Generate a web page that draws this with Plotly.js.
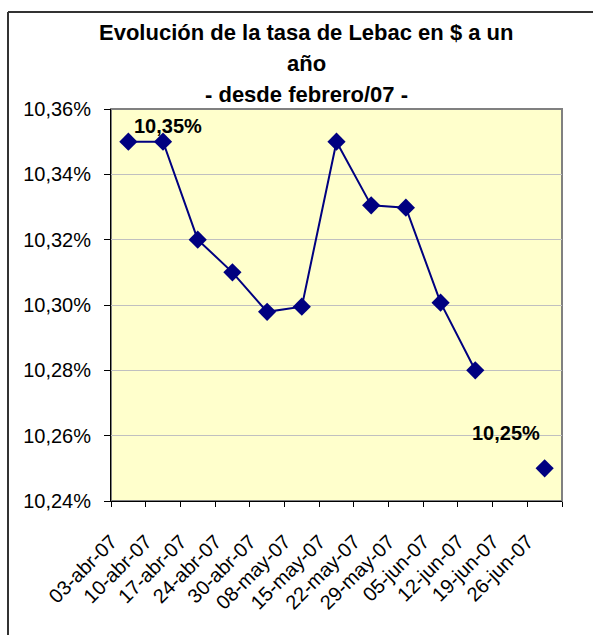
<!DOCTYPE html>
<html>
<head>
<meta charset="utf-8">
<script src="https://cdn.plot.ly/plotly-3.0.1.min.js"></script>
<style>html,body{margin:0;padding:0;background:#fff;}#chart{width:593px;height:635px;}</style>
</head>
<body>
<div id="chart"></div>
<script>
const categories = ["03-abr-07","10-abr-07","17-abr-07","24-abr-07","30-abr-07","08-may-07","15-may-07","22-may-07","29-may-07","05-jun-07","12-jun-07","19-jun-07","26-jun-07"];
const tasa = [10.35, 10.35, 10.32, 10.31, 10.2979, 10.2995, 10.35, 10.3305, 10.3298, 10.3007, 10.28, null, 10.25];
const yTicks = [10.24, 10.26, 10.28, 10.30, 10.32, 10.34, 10.36];
const titleLines = ["Evolución de la tasa de Lebac en $ a un", "año", "- desde febrero/07 -"];
const labelledPoints = [1, 12];

function fmt(v){ return v.toFixed(2).replace('.', ',') + '%'; }

const W = 593, H = 635;
const L = 111, R = 562, T = 109, B = 501;
const pw = R - L, ph = B - T;
const px = x => (x - L) / pw;
const py = y => (B - y) / ph;

const trace = {
  type: 'scatter', mode: 'lines+markers',
  x: categories, y: tasa,
  connectgaps: false,
  line: {color: '#000080', width: 2},
  marker: {symbol: 'diamond', size: 14, color: '#000080'},
  hoverinfo: 'x+y'
};

const FONT = 'Liberation Sans, Arial, sans-serif';
const labelShifts = {1: [5, 16], 12: [-39, 35]};
const annotations = labelledPoints.map(i => ({
  x: categories[i], y: tasa[i], xref: 'x', yref: 'y',
  text: '<b>' + fmt(tasa[i]) + '</b>', showarrow: false,
  xshift: labelShifts[i][0], yshift: labelShifts[i][1],
  font: {family: FONT, size: 20, color: '#000'}
}));
const titleY = [32, 63, 95];
titleLines.forEach((t, i) => annotations.push({
  x: px(306), y: py(titleY[i]), xref: 'paper', yref: 'paper',
  xanchor: 'center', yanchor: 'middle', showarrow: false,
  text: '<b>' + t + '</b>',
  font: {family: FONT, size: 22, color: '#000'}
}));

const layout = {
  width: W, height: H,
  margin: {l: L, r: W - R, t: T, b: H - B, pad: 0},
  paper_bgcolor: '#ffffff', plot_bgcolor: '#FFFFCC',
  separators: ',.',
  font: {family: FONT, size: 20, color: '#000'},
  showlegend: false,
  xaxis: {
    type: 'category', range: [-0.5, categories.length - 0.5],
    tickangle: -45, ticks: 'outside', ticklen: 5, tickwidth: 1, tickcolor: '#000',
    tickson: 'boundaries', ticklabelshift: -17, ticklabelstandoff: 20,
    showline: true, linecolor: '#000', linewidth: 1,
    showgrid: false, zeroline: false, fixedrange: true,
    tickfont: {size: 20}
  },
  yaxis: {
    range: [10.24, 10.36], tickvals: yTicks,
    ticktext: yTicks.map(fmt),
    ticks: 'outside', ticklen: 6, tickwidth: 1, tickcolor: '#000',
    ticklabelstandoff: 9,
    showline: true, linecolor: '#000', linewidth: 1,
    showgrid: true, gridcolor: '#c0c0c0', gridwidth: 1,
    zeroline: false, fixedrange: true,
    tickfont: {size: 20}
  },
  shapes: [
    {type: 'rect', xref: 'paper', yref: 'paper', x0: 0, x1: 1, y0: 0, y1: 1,
     line: {color: '#808080', width: 2}, fillcolor: 'rgba(0,0,0,0)', layer: 'below'},
    {type: 'line', xref: 'paper', yref: 'paper', x0: px(8), x1: px(8), y0: py(12), y1: py(700),
     line: {color: '#333333', width: 2}},
    {type: 'line', xref: 'paper', yref: 'paper', x0: px(8), x1: px(700), y0: py(12), y1: py(12),
     line: {color: '#333333', width: 2}}
  ],
  annotations: annotations
};

Plotly.newPlot('chart', [trace], layout, {displayModeBar: false, staticPlot: true});
</script>
</body>
</html>
